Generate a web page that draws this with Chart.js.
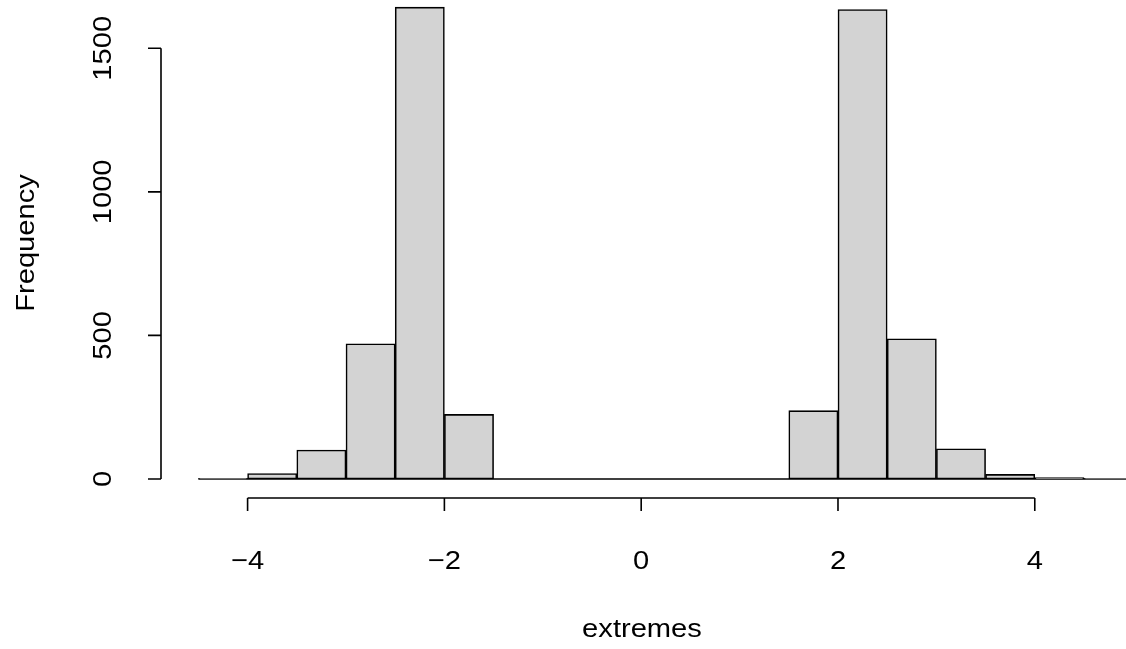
<!DOCTYPE html>
<html>
<head>
<meta charset="utf-8">
<script src="https://cdn.jsdelivr.net/npm/chart.js@4"></script>
<style>
html,body{margin:0;padding:0;background:#fff;}
#c{display:block;}
</style>
</head>
<body>
<canvas id="c" width="1126" height="649"></canvas>
<script>
// ---- data ----
const binStarts = [-4.5,-4,-3.5,-3,-2.5,-2,-1.5,-1,-0.5,0,0.5,1,1.5,2,2.5,3,3.5,4,4.5];
const binWidth = 0.5;
const counts = [1,19,101,471,1643,225,0,0,0,0,0,0,238,1635,488,105,16,5,1];
const xTicks = [-4,-2,0,2,4];
const yTicks = [0,500,1000,1500];
const xLabel = 'extremes';
const yLabel = 'Frequency';

const FONT = '26px "Liberation Sans", Arial, sans-serif';
const STRETCH = 1.12;

function stretchedText(ctx, txt, x, y, rot) {
  ctx.save();
  ctx.translate(x, y);
  if (rot) ctx.rotate(rot);
  ctx.scale(STRETCH, 1);
  ctx.fillText(txt, 0, 0);
  ctx.restore();
}

const rAxes = {
  id: 'rAxes',
  beforeDatasetsDraw(chart) {
    const {ctx, scales: {x, y}} = chart;
    ctx.save();
    ctx.strokeStyle = '#000';
    ctx.lineWidth = 1.6;
    ctx.beginPath();
    const x0 = x.getPixelForValue(binStarts[0]);
    const x1 = x.getPixelForValue(binStarts[binStarts.length-1] + binWidth);
    const yb = y.getPixelForValue(0);
    ctx.moveTo(x0, yb); ctx.lineTo(x1, yb);
    ctx.stroke();
    ctx.restore();
  },
  afterDraw(chart) {
    const {ctx, chartArea, scales: {x, y}} = chart;
    ctx.save();
    ctx.strokeStyle = '#000';
    ctx.fillStyle = '#000';
    ctx.lineWidth = 1.6;
    const tick = 13;
    const ay = chartArea.bottom;
    ctx.beginPath();
    ctx.moveTo(x.getPixelForValue(xTicks[0]), ay);
    ctx.lineTo(x.getPixelForValue(xTicks[xTicks.length-1]), ay);
    xTicks.forEach(v => {
      const px = x.getPixelForValue(v);
      ctx.moveTo(px, ay); ctx.lineTo(px, ay + tick);
    });
    const ax = chartArea.left;
    ctx.moveTo(ax, y.getPixelForValue(yTicks[0]));
    ctx.lineTo(ax, y.getPixelForValue(yTicks[yTicks.length-1]));
    yTicks.forEach(v => {
      const py = y.getPixelForValue(v);
      ctx.moveTo(ax, py); ctx.lineTo(ax - tick, py);
    });
    ctx.stroke();

    ctx.font = FONT;
    ctx.textAlign = 'center';
    ctx.textBaseline = 'middle';
    xTicks.forEach(v => {
      const lbl = v < 0 ? '\u2212' + Math.abs(v) : String(v);
      stretchedText(ctx, lbl, x.getPixelForValue(v), 562, 0);
    });
    yTicks.forEach(v => {
      stretchedText(ctx, String(v), 104, y.getPixelForValue(v), -Math.PI/2);
    });
    stretchedText(ctx, xLabel, 642, 630, 0);
    stretchedText(ctx, yLabel, 27, (chartArea.top + chartArea.bottom)/2 - 6, -Math.PI/2);
    ctx.restore();
  }
};

new Chart(document.getElementById('c'), {
  type: 'bar',
  data: {
    datasets: [{
      data: binStarts.map((s, i) => ({x: s + binWidth/2, y: counts[i]})),
      backgroundColor: '#D3D3D3',
      borderColor: '#000000',
      borderWidth: 1.6,
      borderSkipped: false,
      barPercentage: 1.0,
      categoryPercentage: 1.0,
      grouped: false
    }]
  },
  options: {
    responsive: false,
    animation: false,
    devicePixelRatio: 1,
    layout: {padding: {left: 161, right: 0, top: 0, bottom: 151}},
    plugins: {legend: {display: false}, tooltip: {enabled: false}},
    scales: {
      x: {type: 'linear', min: -4.88, max: 4.927, offset: false, display: false},
      y: {type: 'linear', min: -66.2, max: 1668, display: false}
    }
  },
  plugins: [rAxes]
});
</script>
</body>
</html>
